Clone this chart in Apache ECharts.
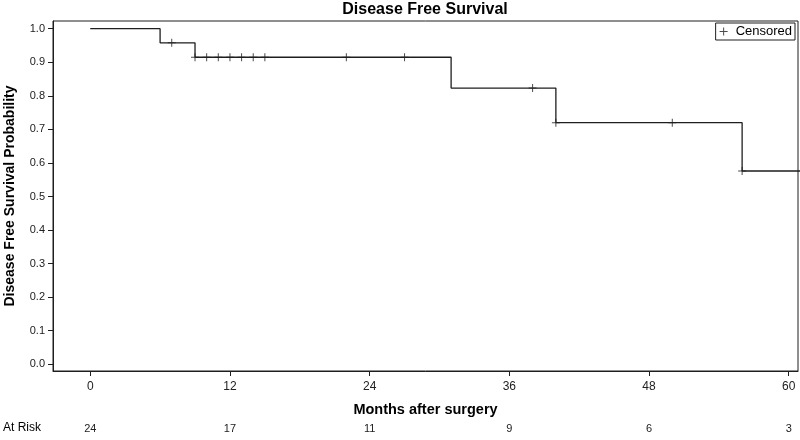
<!DOCTYPE html>
<html>
<head>
<meta charset="utf-8">
<script src="https://cdn.jsdelivr.net/npm/echarts@6/dist/echarts.min.js"></script>
<style>html,body{margin:0;padding:0;background:#fff}#c{width:800px;height:440px}</style>
</head>
<body>
<div id="c"></div>
<script>
// Kaplan-Meier event steps (months, survival probability)
const eventTimes = [0, 6, 9, 31, 40, 56];
const survival = [1.0, 0.958, 0.915, 0.823, 0.720, 0.576];
const followUpEnd = 61;
// Censored observation times (months)
const censorTimes = [7, 9, 10, 11, 12, 13, 14, 15, 22, 27, 38, 40, 50, 56];
// Axis ticks
const xTicks = [0, 12, 24, 36, 48, 60];
const yTicks = [0, 0.1, 0.2, 0.3, 0.4, 0.5, 0.6, 0.7, 0.8, 0.9, 1.0];
// Number at risk at each x tick
const atRisk = [24, 17, 11, 9, 6, 3];

const FONT = '"Liberation Sans", Arial, sans-serif';
const INK = '#1e1e1e';

function survAt(t) {
  let v = survival[0];
  for (let i = 0; i < eventTimes.length; i++) if (eventTimes[i] <= t) v = survival[i];
  return v;
}
const lineData = eventTimes.map((t, i) => [t, survival[i]]);
lineData.push([followUpEnd, survival[survival.length - 1]]);
const censorData = censorTimes.map(t => [t, survAt(t)]);

const plus = 'path://M35,0L45,0L45,35L80,35L80,45L45,45L45,80L35,80L35,45L0,45L0,35L35,35Z';

const chart = echarts.init(document.getElementById('c'), null, {renderer: 'canvas'});
chart.setOption({
  animation: false,
  backgroundColor: '#fff',
  textStyle: {fontFamily: FONT},
  title: {
    text: 'Disease Free Survival',
    left: 425, top: 1, padding: 0, textAlign: 'center',
    textStyle: {fontFamily: FONT, fontSize: 16, fontWeight: 'bold', color: '#000', lineHeight: 17}
  },
  legend: {
    data: [{name: 'Censored', icon: plus}],
    right: 5, top: 23,
    padding: [2, 3, 2, 4],
    itemWidth: 8, itemHeight: 8, itemGap: 4,
    borderColor: INK, borderWidth: 1,
    textStyle: {fontFamily: FONT, fontSize: 13, color: '#000', padding: [0, 0, 0, 3]}
  },
  grid: {
    left: 53, top: 21, right: 2, bottom: 69,
    show: true, borderColor: INK, borderWidth: 1,
    containLabel: false, outerBoundsMode: 'none'
  },
  graphic: [{
    type: 'text', left: 3, top: 422,
    style: {text: 'At Risk', font: '12px ' + FONT, fill: '#000'}
  }],
  xAxis: [{
    type: 'value', min: -3.2, max: 60.8,
    name: 'Months after surgery', nameLocation: 'middle', nameGap: 31, nameMoveOverlap: false,
    nameTextStyle: {fontFamily: FONT, fontSize: 14.5, fontWeight: 'bold', color: '#000'},
    axisLine: {show: true, onZero: false, lineStyle: {color: INK, width: 1}},
    axisTick: {show: true, length: 5, customValues: xTicks, lineStyle: {color: INK}},
    axisLabel: {customValues: xTicks, margin: 10, fontSize: 12, color: '#222', fontFamily: FONT},
    splitLine: {show: false}
  }, {
    type: 'value', min: -3.2, max: 60.8, position: 'bottom', offset: 50,
    axisLine: {show: false, onZero: false}, axisTick: {show: false}, splitLine: {show: false},
    axisLabel: {
      customValues: xTicks, margin: 2, fontSize: 11, color: '#222', fontFamily: FONT,
      formatter: v => { const i = xTicks.indexOf(v); return i >= 0 ? String(atRisk[i]) : ''; }
    }
  }],
  yAxis: {
    type: 'value', min: -0.02, max: 1.023,
    name: 'Disease Free Survival Probability', nameLocation: 'middle', nameGap: 36, nameMoveOverlap: false,
    nameTextStyle: {fontFamily: FONT, fontSize: 14, fontWeight: 'bold', color: '#000'},
    axisLine: {show: true, onZero: false, lineStyle: {color: INK, width: 1}},
    axisTick: {show: true, length: 5, customValues: yTicks, lineStyle: {color: INK}},
    axisLabel: {customValues: yTicks, margin: 8, fontSize: 11, color: '#222', fontFamily: FONT,
      formatter: v => v.toFixed(1)},
    splitLine: {show: false}
  },
  series: [{
    name: 'Survival', type: 'line', step: 'end', data: lineData,
    showSymbol: false, symbol: 'none', clip: true,
    lineStyle: {color: INK, width: 1.3}
  }, {
    name: 'Censored', type: 'scatter', data: censorData,
    symbol: plus, symbolSize: 8, clip: true,
    itemStyle: {color: INK}
  }]
});
</script>
</body>
</html>
